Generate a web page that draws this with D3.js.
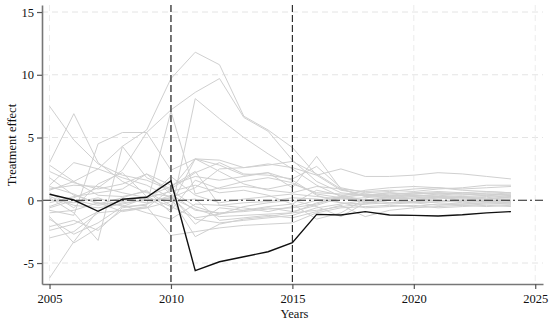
<!DOCTYPE html>
<html>
<head>
<meta charset="utf-8">
<script src="https://cdn.jsdelivr.net/npm/d3@7"></script>
<style>
  body { margin: 0; background: #fff; }
  svg { display: block; }
  text { font-family: "Liberation Serif", "Times New Roman", serif; fill: #111; }
</style>
</head>
<body>
<div id="chart"></div>
<script>
const years = d3.range(2005, 2025);
const xTicks = [2005, 2010, 2015, 2020, 2025];
const yTicks = [-5, 0, 5, 10, 15];
const eventYears = [2010, 2015];

// treated unit
const treated = [0.48, 0.02, -0.88, 0.08, 0.24, 1.54, -5.6, -4.9, -4.5, -4.1, -3.38, -1.12, -1.17, -0.9, -1.17, -1.2, -1.25, -1.15, -1.0, -0.9];

// placebo units
const placebo1 = [0.8, 1.5, 2.5, 4.3, 5.6, 9.7, 11.8, 10.8, 6.7, 5.6, 4.2, 2.0, 0.8, 0.5, 0.3, 0.4, 0.3, 0.2, 0.3, 0.2];
const placebo2 = [-0.5, 0.2, 1.0, 2.4, 5.4, 7.2, 8.6, 9.7, 6.6, 5.5, 3.2, 1.5, 0.6, 0.4, 0.6, 0.5, 0.6, 0.5, 0.4, 0.5];
const placebo3 = [1.1, 0.5, -0.3, 0.2, 0.8, -1.0, 8.1, 6.5, 5.0, 3.7, 2.5, 1.2, 0.3, 0.0, 0.1, 0.3, 0.2, 0.1, 0.0, 0.1];
const placebo4 = [-1.5, -2.7, -1.8, -0.5, -0.4, 7.1, 0.5, 1.0, 1.5, 1.8, 1.4, 0.5, 0.2, -0.2, 0.0, -0.1, 0.2, 0.0, -0.1, 0.0];
const placebo5 = [7.5, 4.8, 2.9, 2.0, 1.6, 0.8, -0.5, -1.1, -0.8, -0.6, -0.9, -0.4, 0.2, 0.5, 0.4, 0.3, 0.5, 0.6, 0.7, 0.6];
const placebo6 = [3.0, 6.9, 3.0, 1.5, 0.6, 0.3, -1.5, -1.8, -1.6, -1.4, -1.2, -0.6, -0.3, 0.0, 0.2, 0.1, 0.0, -0.1, 0.0, -0.1];
const placebo7 = [-0.8, -1.2, 4.5, 5.4, 5.4, 2.4, 3.3, 3.2, 2.6, 2.8, 3.1, 2.1, 0.9, 0.3, 0.2, 0.4, 0.3, 0.2, 0.1, 0.2];
const placebo8 = [0.2, -1.0, -3.2, 4.3, 1.8, 0.9, 2.2, 3.0, 2.1, 2.0, 1.7, 2.7, 1.0, 0.6, 0.7, 0.9, 1.0, 0.8, 0.7, 0.6];
const placebo9 = [2.3, 1.4, 0.9, 1.3, 2.1, 1.2, 1.9, 1.6, 1.9, 2.2, 1.0, 3.5, 0.9, 0.3, 0.5, 0.6, 0.7, 0.6, 0.5, 0.4];
const placebo10 = [1.2, 3.0, 2.5, 1.8, 1.2, 0.2, 1.0, 2.5, 2.6, 2.9, 2.6, 2.0, 2.5, 1.9, 1.9, 2.0, 2.2, 2.1, 1.9, 1.7];
const placebo11 = [-6.2, -3.3, -0.8, -0.2, 0.0, 0.2, -0.7, -1.3, -1.2, -1.1, -1.0, -0.8, -0.5, -0.3, -0.2, -0.1, -0.2, -0.3, -0.2, -0.3];
const placebo12 = [-3.0, -2.5, -1.0, -0.8, -0.5, -2.8, -2.5, -2.2, -2.0, -1.9, -1.8, -1.0, -0.6, -0.5, -0.4, -0.5, -0.3, -0.4, -0.5, -0.4];
const placebo13 = [-2.1, -1.6, -2.4, -0.6, -0.3, 0.4, -1.9, -0.6, -0.8, -0.5, -0.3, -1.5, -1.0, 0.1, -0.2, -0.1, 0.0, -0.2, -0.1, -0.2];
const placebo14 = [0.3, -0.4, -0.6, -0.3, 0.1, 1.9, 0.4, -0.2, 0.1, 0.3, 0.5, 0.3, 0.1, 0.2, 0.4, 0.6, 0.5, 0.4, 0.6, 0.5];
const placebo15 = [-0.2, 0.3, 0.6, 0.9, 2.1, 0.5, -0.8, -1.0, -0.9, -0.7, -0.6, -0.3, 0.3, 0.8, 1.0, 1.1, 1.0, 0.9, 1.0, 1.1];
const placebo16 = [2.8, 1.5, 0.4, 0.3, 0.7, -0.4, 3.3, 2.8, 2.0, 2.2, 1.6, 0.4, -0.2, -0.3, 0.1, 0.2, 0.3, 0.2, 0.1, 0.3];
const placebo17 = [-0.6, 0.0, -0.4, -0.1, 0.3, -0.5, -1.4, -1.1, -0.5, -0.2, 0.0, -0.5, -1.3, -0.2, 0.0, -0.2, -0.4, -0.3, -0.2, -0.2];
const placebo18 = [0.9, 1.2, 1.1, 0.6, 0.2, 0.7, 1.2, 0.6, 0.8, 0.4, -0.3, 0.8, 0.4, 0.0, 0.3, 0.1, 0.2, 0.3, 0.2, 0.4];
const placebo19 = [-1.0, -0.8, -0.2, -0.4, -1.0, -1.5, -0.3, -0.4, -0.2, -0.1, 0.2, 0.1, -0.2, -0.6, -0.5, -0.4, -0.6, -0.5, -0.4, -0.5];
const placebo20 = [1.8, 0.4, -0.2, -0.9, -0.6, 0.9, 3.3, 2.3, 1.3, 0.8, 0.6, 1.1, 0.9, 0.7, 0.8, 0.7, 0.9, 1.0, 1.2, 1.2];
const placebo21 = [-2.4, -1.9, -0.9, 0.1, -0.2, 0.2, -2.9, -1.9, -1.5, -1.3, -1.0, -0.2, 0.2, -0.1, -0.3, -0.2, -0.1, 0.0, -0.1, 0.0];
const placebo22 = [0.0, -0.2, 0.2, -0.5, 0.2, -0.8, 1.6, 0.9, 1.1, 0.9, 1.3, 0.6, 0.5, 0.4, 0.6, 0.4, 0.4, 0.3, 0.4, 0.3];
const placebo23 = [-1.3, -3.4, -2.2, -0.8, -0.6, -0.1, 0.1, -1.6, -1.4, -1.2, -1.4, -0.9, -0.4, -1.3, -0.8, -0.6, -0.5, -0.4, -0.3, -0.3];
const placebo24 = [0.6, -0.6, 1.3, 2.2, 0.3, 1.1, 2.3, -0.4, -0.6, -0.9, -0.5, 0.0, 0.3, 0.4, 0.3, 0.5, 0.6, 0.5, 0.5, 0.4];

const placebos = [placebo1, placebo2, placebo3, placebo4, placebo5, placebo6, placebo7, placebo8,
  placebo9, placebo10, placebo11, placebo12, placebo13, placebo14, placebo15, placebo16,
  placebo17, placebo18, placebo19, placebo20, placebo21, placebo22, placebo23, placebo24];

const width = 550;
const height = 324;
const plotLeft = 42, plotRight = 543, plotTop = 5, plotBottom = 284;

const x = d3.scaleLinear().domain([2004.69, 2025.32]).range([plotLeft, plotRight]);
const y = d3.scaleLinear().domain([-6.67, 15.56]).range([plotBottom, plotTop]);

const svg = d3.select("#chart").append("svg")
  .attr("width", width)
  .attr("height", height);

// grid
svg.append("g").selectAll("line")
  .data(yTicks.filter(d => d !== 0))
  .enter().append("line")
  .attr("x1", plotLeft).attr("x2", plotRight)
  .attr("y1", d => y(d)).attr("y2", d => y(d))
  .attr("stroke", "#e4e4e4")
  .attr("stroke-dasharray", "6,4");

svg.append("g").selectAll("line")
  .data(xTicks.filter(d => !eventYears.includes(d)))
  .enter().append("line")
  .attr("x1", d => x(d)).attr("x2", d => x(d))
  .attr("y1", plotTop).attr("y2", plotBottom)
  .attr("stroke", "#ececec")
  .attr("stroke-dasharray", "6,4");

const line = d3.line()
  .x((d, i) => x(years[i]))
  .y(d => y(d));

svg.append("g").selectAll("path")
  .data(placebos)
  .enter().append("path")
  .attr("d", line)
  .attr("fill", "none")
  .attr("stroke", "#d0d0d0")
  .attr("stroke-width", 1);

// reference lines
svg.append("line")
  .attr("x1", plotLeft).attr("x2", plotRight)
  .attr("y1", y(0)).attr("y2", y(0))
  .attr("stroke", "#222")
  .attr("stroke-width", 1.1)
  .attr("stroke-dasharray", "9,3,2,3");

svg.append("line")
  .attr("x1", x(eventYears[0])).attr("x2", x(eventYears[0]))
  .attr("y1", plotTop).attr("y2", plotBottom)
  .attr("stroke", "#555")
  .attr("stroke-width", 1.6)
  .attr("stroke-dasharray", "7,3");

svg.append("line")
  .attr("x1", x(eventYears[1])).attr("x2", x(eventYears[1]))
  .attr("y1", plotTop).attr("y2", plotBottom)
  .attr("stroke", "#222")
  .attr("stroke-width", 1.1)
  .attr("stroke-dasharray", "7,3");

svg.append("path")
  .datum(treated)
  .attr("d", line)
  .attr("fill", "none")
  .attr("stroke", "#111")
  .attr("stroke-width", 1.4);

// axes
const xAxis = d3.axisBottom(x).tickValues(xTicks).tickFormat(d3.format("d")).tickSize(5).tickSizeOuter(0);
const yAxis = d3.axisLeft(y).tickValues(yTicks).tickSize(5).tickSizeOuter(0);

const gx = svg.append("g")
  .attr("transform", "translate(0," + plotBottom + ")")
  .call(xAxis);
const gy = svg.append("g")
  .attr("transform", "translate(" + plotLeft + ",0)")
  .call(yAxis);

[gx, gy].forEach(g => {
  g.select(".domain").attr("stroke", "#777").attr("stroke-width", 1.6);
  g.selectAll(".tick line").attr("stroke", "#555").attr("stroke-width", 1.2);
  g.selectAll(".tick text")
    .attr("font-family", "Liberation Serif, serif")
    .attr("font-size", 12.5)
    .attr("fill", "#111");
});
gx.selectAll(".tick text").attr("dy", "0.9em");
gy.selectAll(".tick text").attr("x", -8).text(d => d < 0 ? "-" + Math.abs(d) : d);

svg.append("text")
  .attr("x", (plotLeft + plotRight) / 2 + 2)
  .attr("y", 318)
  .attr("text-anchor", "middle")
  .style("font-size", "12.5px")
  .text("Years");

svg.append("text")
  .attr("transform", "rotate(-90)")
  .attr("x", -145)
  .attr("y", 16)
  .attr("text-anchor", "middle")
  .style("font-size", "12.5px")
  .text("Treatment effect");
</script>
</body>
</html>
